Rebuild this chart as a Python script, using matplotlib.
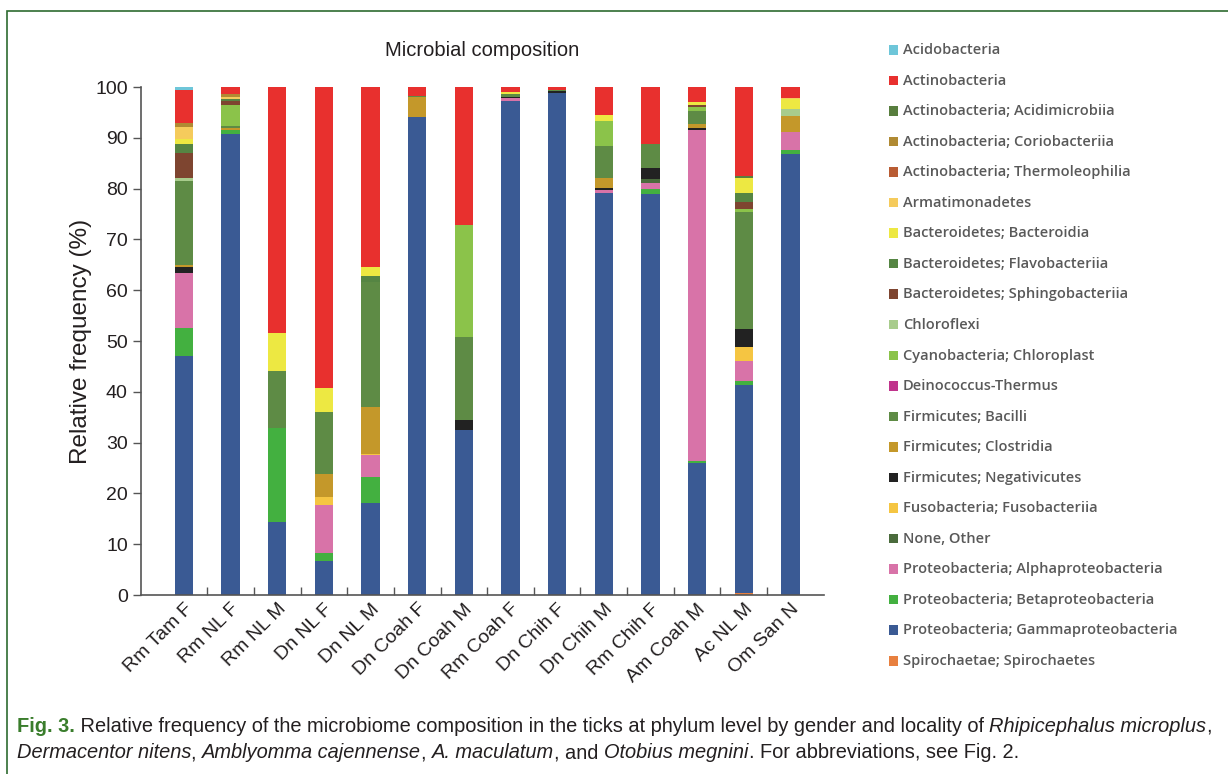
import matplotlib.pyplot as plt
from matplotlib.patches import Rectangle
import numpy as np

samples = ["Rm Tam F", "Rm NL F", "Rm NL M", "Dn NL F", "Dn NL M", "Dn Coah F",
           "Dn Coah M", "Rm Coah F", "Dn Chih F", "Dn Chih M", "Rm Chih F",
           "Am Coah M", "Ac NL M", "Om San N"]

# relative frequency (%) per taxon, one value per sample
acidobacteria = [0.5, 0, 0, 0, 0, 0, 0, 0, 0, 0, 0, 0, 0, 0]
actinobacteria = [6.5, 1.4, 48.5, 59.2, 35.5, 1.8, 27.2, 0.9, 0.5, 5.6, 11.3, 3.0, 17.6, 2.1]
acidimicrobiia = [0, 0, 0, 0, 0, 0, 0, 0, 0, 0, 0, 0, 0.3, 0]
coriobacteriia = [0.9, 0.5, 0, 0, 0, 0, 0, 0, 0, 0, 0, 0, 0, 0]
thermoleophilia = [0, 0, 0, 0, 0, 0, 0, 0, 0, 0, 0, 0, 0, 0]
armatimonadetes = [2.3, 0.5, 0, 0, 0, 0, 0, 0, 0, 0, 0, 0, 0, 0.2]
bacteroidia = [1.0, 0, 7.5, 4.7, 1.7, 0, 0, 0.5, 0, 1.1, 0, 0.5, 3.0, 2.0]
flavobacteriia = [1.8, 0.3, 0, 0, 1.2, 0, 0, 0, 0, 0, 0, 0, 1.8, 0]
sphingobacteriia = [5.0, 0.8, 0, 0, 0, 0, 0, 0, 0, 0, 0, 0.4, 1.3, 0]
chloroflexi = [0.5, 0, 0, 0, 0, 0, 0, 0, 0, 0, 0, 0, 0, 1.5]
cyanobacteria = [0, 4.1, 0, 0, 0, 0, 22.0, 0, 0, 4.9, 0, 0.9, 0.6, 0]
deinococcus = [0, 0, 0, 0, 0, 0, 0, 0, 0, 0, 0, 0, 0, 0]
bacilli = [16.6, 0.4, 11.2, 12.2, 24.6, 0.2, 16.3, 0.6, 0.3, 6.4, 4.6, 2.5, 23.0, 0]
clostridia = [0.4, 0.4, 0, 4.6, 9.2, 4.0, 0, 0, 0, 1.9, 0, 0.8, 0, 3.0]
negativicutes = [1.2, 0, 0, 0, 0, 0, 2.1, 0.2, 0.4, 0.3, 2.3, 0.4, 3.6, 0]
fusobacteriia = [0, 0, 0, 1.5, 0.3, 0, 0, 0, 0, 0, 0, 0, 2.8, 0]
none_other = [0, 0, 0, 0, 0, 0, 0, 0, 0, 0, 0.6, 0, 0, 0]
alphaproteo = [10.8, 0, 0, 9.5, 4.3, 0, 0, 0.6, 0, 0.6, 1.3, 65.1, 3.9, 3.6]
betaproteo = [5.5, 0.8, 18.5, 1.7, 5.1, 0, 0, 0, 0, 0, 0.9, 0.4, 0.8, 0.8]
gammaproteo = [47.0, 90.8, 14.3, 6.6, 18.1, 94.0, 32.4, 97.2, 98.8, 79.2, 79.0, 26.0, 41.0, 86.8]
spirochaetes = [0, 0, 0, 0, 0, 0, 0, 0, 0, 0, 0, 0, 0.3, 0]

taxa = ["Acidobacteria", "Actinobacteria", "Actinobacteria; Acidimicrobiia",
        "Actinobacteria; Coriobacteriia", "Actinobacteria; Thermoleophilia",
        "Armatimonadetes", "Bacteroidetes; Bacteroidia", "Bacteroidetes; Flavobacteriia",
        "Bacteroidetes; Sphingobacteriia", "Chloroflexi", "Cyanobacteria; Chloroplast",
        "Deinococcus-Thermus", "Firmicutes; Bacilli", "Firmicutes; Clostridia",
        "Firmicutes; Negativicutes", "Fusobacteria; Fusobacteriia", "None, Other",
        "Proteobacteria; Alphaproteobacteria", "Proteobacteria; Betaproteobacteria",
        "Proteobacteria; Gammaproteobacteria", "Spirochaetae; Spirochaetes"]
series = [acidobacteria, actinobacteria, acidimicrobiia, coriobacteriia, thermoleophilia,
          armatimonadetes, bacteroidia, flavobacteriia, sphingobacteriia, chloroflexi,
          cyanobacteria, deinococcus, bacilli, clostridia, negativicutes, fusobacteriia,
          none_other, alphaproteo, betaproteo, gammaproteo, spirochaetes]
colors = ["#6ec6d9", "#e8302e", "#587e3e", "#b08a33", "#b95c33", "#f5cb5c", "#ede842",
          "#558543", "#7e4530", "#a8cc8c", "#8bc34a", "#c0348c", "#5e8b45", "#c4982a",
          "#222222", "#f5c542", "#4a6b3c", "#d873a8", "#43b040", "#3a5a94", "#e8803f"]

W, H = 1228, 774
fig = plt.figure(figsize=(W / 100, H / 100), dpi=100)
fig.patches.append(Rectangle((7 / W, -0.1), 1.2, (H - 11) / H + 0.1, transform=fig.transFigure,
                             fill=False, edgecolor="#2e6b30", lw=1.2))

ax = fig.add_axes([141 / W, (H - 595) / H, (824 - 141) / W, (595 - 87) / H])
x = np.arange(len(samples))
bottom = np.zeros(len(samples))
# stack from the bottom: reverse of legend order
for vals, col in zip(series[::-1], colors[::-1]):
    vals = np.array(vals)
    ax.bar(x, vals, 0.39, bottom=bottom, color=col, linewidth=0)
    bottom += vals

ax.set_xlim(-0.92, 13.72)
ax.set_ylim(0, 100)
ax.set_yticks(range(0, 101, 10))
ax.set_xticks(x)
ax.set_xticklabels(samples, rotation=45, ha="right", rotation_mode="anchor",
                   fontsize=14, family="Liberation Sans", color="#231f20")
ax.set_xticks(x[:-1] + 0.5, minor=True)
ax.tick_params(axis="x", which="major", length=0, pad=4)
ax.tick_params(axis="x", which="minor", direction="in", length=6, width=1, color="#555555")
ax.tick_params(axis="y", direction="out", length=6, width=1, color="#555555",
               labelsize=14, labelcolor="#231f20")
for lab in ax.get_yticklabels():
    lab.set_family("Liberation Sans")
for s in ["top", "right"]:
    ax.spines[s].set_visible(False)
for s in ["left", "bottom"]:
    ax.spines[s].set_color("#555555")
    ax.spines[s].set_linewidth(1.2)
ax.set_ylabel("Relative frequency (%)", fontsize=17.5, family="Liberation Sans",
              color="#231f20", labelpad=2)
ax.set_title("Microbial composition", fontsize=14.5, family="Liberation Sans",
             color="#231f20", pad=22)

# legend
for i, (name, col) in enumerate(zip(taxa, colors)):
    yc = H - 50 - 30.55 * i
    fig.patches.append(Rectangle((889 / W, (yc - 4.5) / H), 9.5 / W, 9.5 / H,
                                 transform=fig.transFigure, color=col, lw=0))
    fig.text(903 / W, yc / H, name, fontsize=10.5, family="Open Sans", weight="semibold",
             color="#595959", va="center", ha="left")

# caption with mixed styles, sized so the first line spans the frame
cap_font = "Liberation Sans"
lines = [
    [("Fig. 3.", "bold", "normal", "#3a7d2c"),
     (" Relative frequency of the microbiome composition in the ticks at phylum level by gender and locality of ",
      "normal", "normal", "#231f20"),
     ("Rhipicephalus microplus", "normal", "italic", "#231f20"),
     (",", "normal", "normal", "#231f20")],
    [("Dermacentor nitens", "normal", "italic", "#231f20"),
     (", ", "normal", "normal", "#231f20"),
     ("Amblyomma cajennense", "normal", "italic", "#231f20"),
     (", ", "normal", "normal", "#231f20"),
     ("A. maculatum", "normal", "italic", "#231f20"),
     (", and ", "normal", "normal", "#231f20"),
     ("Otobius megnini", "normal", "italic", "#231f20"),
     (". For abbreviations, see Fig. 2.", "normal", "normal", "#231f20")],
]
renderer = fig.canvas.get_renderer()


def draw_line(segs, ypos, size):
    xpos = 17
    made = []
    for txt, wt, st, col in segs:
        t = fig.text(xpos / W, ypos / H, txt, fontsize=size, family=cap_font,
                     weight=wt, style=st, color=col, va="center", ha="left")
        xpos += t.get_window_extent(renderer).width
        made.append(t)
    return xpos - 17, made


w1, tmp = draw_line(lines[0], H - 726, 14)
for t in tmp:
    t.remove()
cap_size = 14 * 1203 / w1
for li, segs in enumerate(lines):
    draw_line(segs, H - 726 - 27 * li, cap_size)

fig.savefig("out.png", dpi=100)
